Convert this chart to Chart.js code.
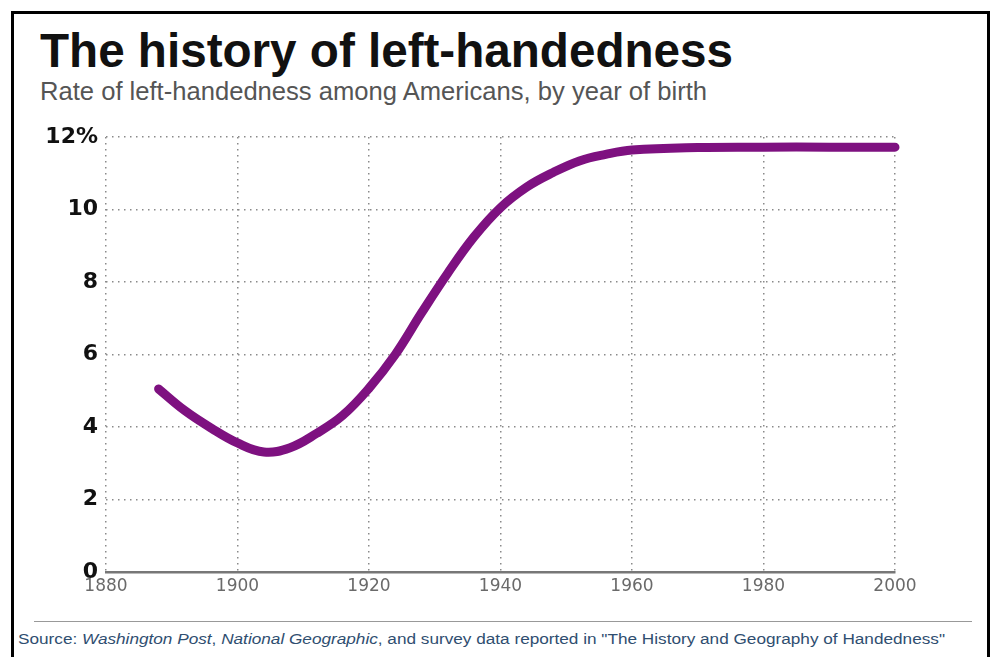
<!DOCTYPE html>
<html>
<head>
<meta charset="utf-8">
<script src="https://cdn.jsdelivr.net/npm/chart.js@4"></script>
<style>
  html, body { margin: 0; padding: 0; background: #fff; }
  body { width: 995px; height: 657px; position: relative; overflow: hidden; }
  .frame { position: absolute; left: 11px; top: 11px; width: 973px; height: 700px;
           border: 3px solid #000; border-bottom: none; }
  .txt { position: absolute; white-space: nowrap; line-height: 1; transform-origin: 0 0; }
  #title { left: 40px; top: 23px; font: bold 48px "Liberation Sans", sans-serif; color: #111; }
  #sub { left: 40px; top: 76px; font: 26px "Liberation Sans", sans-serif; color: #555; }
  #src { left: 18px; top: 631px; font: 14px "Liberation Sans", Arial, sans-serif; color: #2f4e70; }
  .rule { position: absolute; left: 34px; top: 621px; width: 938px; height: 1px; background: #999; }
  #wrap { position: absolute; left: 0; top: 0; width: 995px; height: 600px; }
</style>
</head>
<body>
<div class="frame"></div>
<div id="title" class="txt">The history of left-handedness</div>
<div id="sub" class="txt">Rate of left-handedness among Americans, by year of birth</div>
<div id="wrap"><canvas id="chart"></canvas></div>
<div class="rule"></div>
<div id="src" class="txt">Source: <i>Washington Post</i>, <i>National Geographic</i>, and survey data reported in "The History and Geography of Handedness"</div>
<script>
// year of birth -> % left-handed
const years = [1888, 1892, 1896, 1900, 1904, 1908, 1912, 1916, 1920, 1924, 1928, 1932,
               1936, 1940, 1944, 1948, 1952, 1956, 1960, 1970, 1980, 1990, 2000];
const rates = [5.05, 4.45, 3.97, 3.56, 3.31, 3.43, 3.82, 4.32, 5.07, 6.0, 7.15, 8.25,
               9.25, 10.05, 10.62, 11.02, 11.34, 11.52, 11.64, 11.71, 11.72, 11.72, 11.72];
const yTicks = [0, 2, 4, 6, 8, 10, 12];
const xTicks = [1880, 1900, 1920, 1940, 1960, 1980, 2000];

// stretch text blocks to the widths they have in the original
function fitWidth(id, w) {
  const el = document.getElementById(id);
  const cur = el.getBoundingClientRect().width;
  if (cur > 0) el.style.transform = `scaleX(${w / cur})`;
}
fitWidth("title", 693);
fitWidth("sub", 667);
fitWidth("src", 927);

const dotted = [1.5, 4.5];

new Chart(document.getElementById("chart").getContext("2d"), {
  type: "line",
  data: {
    datasets: [{
      data: years.map((y, i) => ({ x: y, y: rates[i] })),
      borderColor: "#7e1180",
      borderWidth: 9,
      borderCapStyle: "round",
      borderJoinStyle: "round",
      pointRadius: 0,
      tension: 0.4,
      clip: false,
    }],
  },
  options: {
    responsive: true,
    maintainAspectRatio: false,
    animation: false,
    layout: { padding: { top: 137, right: 100, left: 0, bottom: 0 } },
    plugins: { legend: { display: false }, tooltip: { enabled: false } },
    scales: {
      x: {
        type: "linear",
        min: 1880,
        max: 2000,
        afterBuildTicks: (s) => { s.ticks = xTicks.map((v) => ({ value: v })); },
        afterFit: (s) => { s.height = 28; },
        grid: { color: "#8a8a8a", lineWidth: 1.5, drawTicks: false },
        border: { display: true, color: "#777", width: 2.5, dash: dotted },
        ticks: {
          padding: 4,
          color: "#6a6a6a",
          font: { family: "DejaVu Sans", size: 17 },
          callback: (v) => String(v),
        },
      },
      y: {
        min: 0,
        max: 12,
        afterBuildTicks: (s) => { s.ticks = yTicks.map((v) => ({ value: v })); },
        afterFit: (s) => { s.width = 106; },
        grid: { color: "#8a8a8a", lineWidth: 1.5, drawTicks: false },
        border: { display: false, dash: dotted },
        ticks: {
          padding: 8,
          color: "#111",
          font: { family: "DejaVu Sans", size: 22, weight: "bold" },
          callback: (v) => (v === 12 ? "12%" : String(v)),
        },
      },
    },
  },
});
</script>
</body>
</html>
